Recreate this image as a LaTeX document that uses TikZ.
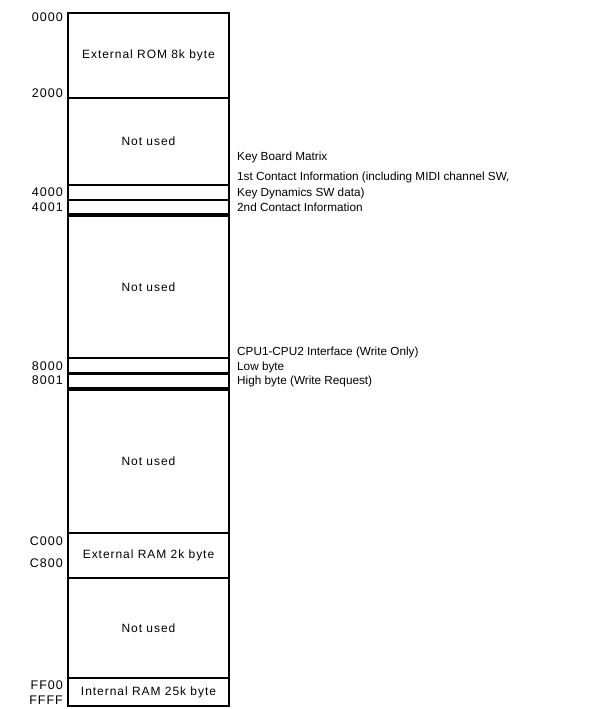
\documentclass[tikz,border=0pt]{standalone}
\usepackage{fontspec}
\setmainfont{Liberation Sans}
\newfontfamily\boxfont[LetterSpace=8]{Liberation Sans}
\begin{document}
\begin{tikzpicture}[x=1pt,y=-1pt,
  mem/.style={draw, line width=1.5pt, minimum width=161pt, inner sep=0pt,
    font=\boxfont\fontsize{12}{14}\selectfont},
  addr/.style={anchor=east, inner sep=0pt, text height=8.5pt, text depth=0pt,
    font=\boxfont\fontsize{12.5}{14}\selectfont},
  note/.style={anchor=west, inner sep=0pt, text height=8.5pt, text depth=0pt,
    font=\fontsize{11.75}{13}\selectfont}]
\useasboundingbox[fill=white] (0,0) rectangle (590,709);
% memory blocks
\node[mem, minimum height=85pt]  (rom)   at (148.5,55.5)  {External ROM 8k byte};
\node[mem, minimum height=87pt]  (nu1)   at (148.5,141.5) {Not used};
\node[mem, minimum height=15pt]  (b4000) at (148.5,192.5) {};
\node[mem, minimum height=14pt]  (b4001) at (148.5,207)   {};
\node[mem, minimum height=142pt] (nu2)   at (148.5,287)   {Not used};
\node[mem, minimum height=15pt]  (b8000) at (148.5,365.5) {};
\node[mem, minimum height=14pt]  (b8001) at (148.5,381)   {};
\node[mem, minimum height=143pt] (nu3)   at (148.5,461.5) {Not used};
\node[mem, minimum height=45pt]  (eram)  at (148.5,555.5) {External RAM 2k byte};
\node[mem, minimum height=100pt] (nu4)   at (148.5,628)   {Not used};
\node[mem, minimum height=28pt]  (iram)  at (148.5,692)   {Internal RAM 25k byte};
% addresses
\node[addr] (a0000) at (63,17)  {0000};
\node[addr] (a2000) at (63,93)  {2000};
\node[addr] (a4000) at (63,192) {4000};
\node[addr] (a4001) at (63,207) {4001};
\node[addr] (a8000) at (63,366) {8000};
\node[addr] (a8001) at (63,380) {8001};
\node[addr] (aC000) at (63,541) {C000};
\node[addr] (aC800) at (63,563) {C800};
\node[addr] (aFF00) at (63,685) {FF00};
\node[addr] (aFFFF) at (63,700) {FFFF};
% notes
\node[note] (n1) at (237,156) {Key Board Matrix};
\node[note] (n2) at (237,176) {1st Contact Information (including MIDI channel SW,};
\node[note] (n3) at (237,192) {Key Dynamics SW data)};
\node[note] (n4) at (237,207) {2nd Contact Information};
\node[note] (n5) at (237,351) {CPU1-CPU2 Interface (Write Only)};
\node[note] (n6) at (237,366) {Low byte};
\node[note] (n7) at (237,380) {High byte (Write Request)};
\end{tikzpicture}
\end{document}
